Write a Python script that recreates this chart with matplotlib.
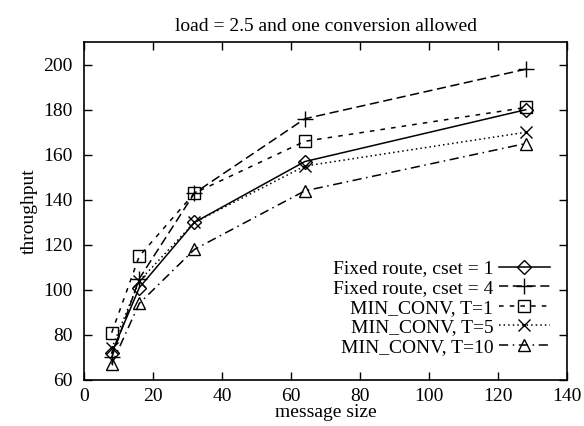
import matplotlib as mpl
mpl.use('Agg')
import matplotlib.pyplot as plt

mpl.rcParams['font.family'] = ['Liberation Serif', 'DejaVu Serif']
mpl.rcParams['font.size'] = 14

msg_size = [8, 16, 32, 64, 128]
fixed_c1 = [72, 101, 130, 157, 180]
fixed_c4 = [70, 105, 143, 176, 198]
minconv_t1 = [81, 115, 143, 166, 181]
minconv_t5 = [74, 104, 130, 155, 170]
minconv_t10 = [67, 94, 118, 144, 165]

fig = plt.figure(figsize=(5.84, 4.26), dpi=100)
ax = fig.add_axes([0.144, 0.108, 0.827, 0.793])

kw = dict(color='black', lw=1.1, ms=9, mfc='none', mew=1.0)
ax.plot(msg_size, fixed_c1, ls='-', marker='D', label='Fixed route, cset = 1', **dict(kw, ms=7.5))
ax.plot(msg_size, fixed_c4, ls=(0, (6, 3)), marker='+', label='Fixed route, cset = 4', **dict(kw, ms=12))
ax.plot(msg_size, minconv_t1, ls=(0, (3, 4)), marker='s', label='MIN_CONV, T=1', **kw)
ax.plot(msg_size, minconv_t5, ls=(0, (1, 2)), marker='x', label='MIN_CONV, T=5', **dict(kw, ms=9))
ax.plot(msg_size, minconv_t10, ls=(0, (6, 3, 1, 3)), marker='^', label='MIN_CONV, T=10', **kw)

ax.set_xlim(0, 140)
ax.set_ylim(60, 210)
ax.set_xticks(range(0, 141, 20))
ax.set_yticks(range(60, 201, 20))
ax.tick_params(direction='in', length=6, width=1.0, top=True, right=True, pad=8)
ax.tick_params(axis='x', pad=6)
for s in ax.spines.values():
    s.set_linewidth(1.2)
ax.set_xlabel('message size', labelpad=-1)
ax.set_ylabel('throughput', labelpad=4)
ax.set_title('load = 2.5 and one conversion allowed', fontsize=14, pad=8)

ax.legend(loc='lower right', bbox_to_anchor=(1.0, 0.02), frameon=False,
          markerfirst=False, handlelength=2.6,
          labelspacing=0.1, handletextpad=0.3, borderaxespad=0.5)

plt.savefig('out.png', dpi=100)
plt.close()
